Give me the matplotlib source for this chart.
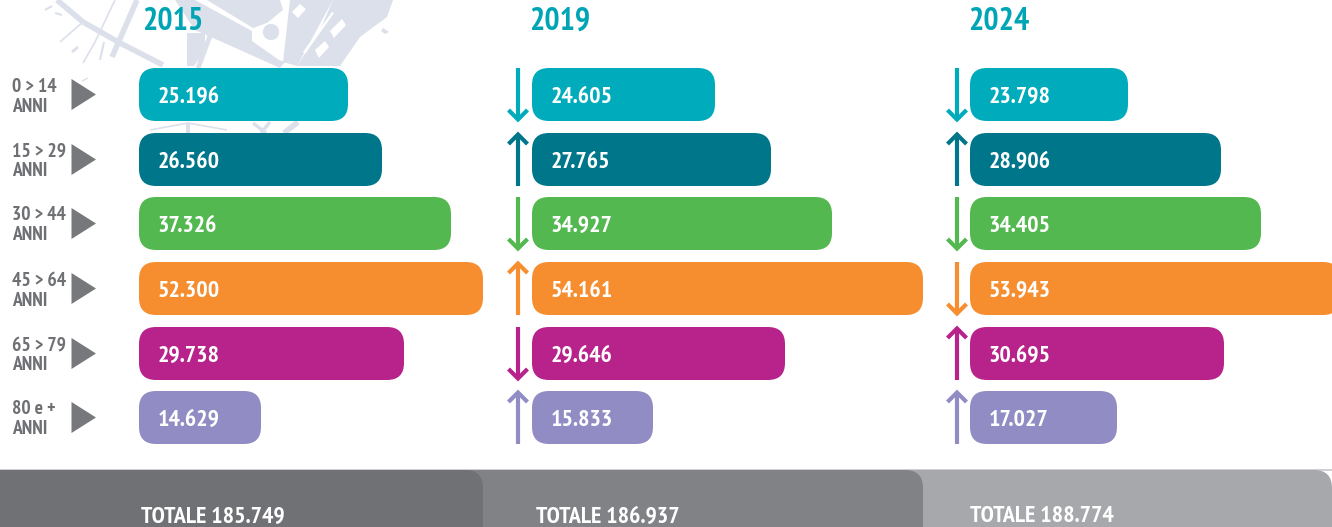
import matplotlib
matplotlib.use("Agg")
import matplotlib.pyplot as plt
from matplotlib.patches import FancyBboxPatch, Polygon, Circle, Rectangle
from matplotlib import font_manager as fm

# ---------- data ----------
years = ["2015", "2019", "2024"]
age_line1 = ["0 > 14", "15 > 29", "30 > 44", "45 > 64", "65 > 79", "80 e +"]
age_line2 = ["ANNI"] * 6
labels_2015 = ["25.196", "26.560", "37.326", "52.300", "29.738", "14.629"]
labels_2019 = ["24.605", "27.765", "34.927", "54.161", "29.646", "15.833"]
labels_2024 = ["23.798", "28.906", "34.405", "53.943", "30.695", "17.027"]
# drawn bar lengths as they appear in the infographic (not strictly proportional)
lengths_2015 = [209, 243, 312, 344, 265, 122]
lengths_2019 = [183, 239, 300, 391, 253, 121]
lengths_2024 = [158, 251, 291, 370, 254, 147]
arrows_2019 = [-1, 1, -1, 1, -1, 1]
arrows_2024 = [-1, 1, -1, -1, 1, 1]
totals = ["TOTALE 185.749", "TOTALE 186.937", "TOTALE 188.774"]

# ---------- style / layout ----------
colors = ["#00abbb", "#00768a", "#52b84f", "#f68e30", "#b7228b", "#918cc3"]
col_x = [139, 532, 970]
year_x = [142.5, 529.5, 968.5]
total_x = [141, 536, 970]
row_y = [68, 133, 197, 262, 327, 391]
BAR_H = 53
RAD = 17
TEAL = "#00a5b5"
GREY = "#6f7073"
MAP = "#dbe0ea"

avail = {f.name for f in fm.fontManager.ttflist}
FONT = "Roboto"
for cand in ["PT Sans Narrow", "TeX Gyre Heros Cn", "Roboto Condensed", "Roboto"]:
    if cand in avail:
        FONT = cand
        break
plt.rcParams["font.family"] = [FONT, "DejaVu Sans"]

fig = plt.figure(figsize=(13.32, 5.27), dpi=100)
ax = fig.add_axes([0, 0, 1, 1])
ax.set_xlim(0, 1332)
ax.set_ylim(527, 0)
ax.axis("off")


def rbox(x, y, w, h, c, r=RAD, z=3):
    ax.add_patch(FancyBboxPatch((x + r, y + r), w - 2 * r, h - 2 * r,
                                boxstyle=f"round,pad={r},rounding_size={r}",
                                fc=c, ec="none", zorder=z))


# background map fragment
map_lines = [
    ([57, 83, 120, 163], [0, 22, 43, 65], 4),
    ([137, 112], [0, 57], 4),
    ([60, 83], [42, 22], 1.2),
    ([83, 95, 115], [63, 42, 0], 1.2),
    ([45, 52], [10, 6], 1.5), ([55, 62], [13, 15], 1.5),
    ([72, 78], [52, 47], 2), ([100, 104], [60, 42], 1.5),
    ([210, 198], [36, 68], 3.5),
    ([150, 188, 227], [130, 123, 130], 1.2),
    ([188, 188], [123, 133], 3),
    ([253, 266], [123, 133], 2.5), ([270, 261], [122, 133], 2.5),
    ([298, 284], [122, 133], 4),
    ([82, 88], [81, 78], 1),
]
for xs, ys, lw in map_lines:
    ax.plot(xs, ys, color=MAP, lw=lw, solid_capstyle="butt", zorder=1)
map_polys = [
    [(207, 0), (280, 0), (283, 10), (267, 23), (253, 28)],
    [(175, 0), (195, 0), (252, 31), (252, 41), (279, 60), (285, 62), (280, 68), (240, 50), (195, 30)],
    [(333, 0), (393, 0), (387, 17), (360, 37), (340, 66), (297, 66), (320, 30)],
    [(290, 0), (333, 0), (297, 66), (283, 62)],
    [(187, 33), (205, 33), (205, 50), (194, 66), (187, 66)],
    [(383, 28), (389, 32), (385, 34), (381, 31)],
]
for p in map_polys:
    ax.add_patch(Polygon(p, closed=True, fc=MAP, ec="none", zorder=1))
white_blocks = [
    [(292, 12), (300, 4), (306, 9), (298, 18)],
    [(330, 31), (342, 19), (346, 25), (334, 38)],
    [(315, 50), (325, 41), (329, 47), (319, 58)],
    [(303, 52), (332, 12), (334, 13), (305, 54)],
]
for p in white_blocks:
    ax.add_patch(Polygon(p, closed=True, fc="white", ec="none", zorder=1.2))
ax.add_patch(Circle((271, 32), 9, fc=MAP, ec="white", lw=1.2, zorder=1.5))

# year headings
for x, y in zip(year_x, years):
    ax.text(x, 22, y, color=TEAL, fontsize=23, fontweight="bold", va="center", ha="left", zorder=4)

# row labels + triangles
for y, a, b in zip(row_y, age_line1, age_line2):
    ax.text(12.5, y + 18.5, a, color=GREY, fontsize=14, fontweight="bold", va="center", ha="left", zorder=4)
    ax.text(12.5, y + 38.5, b, color=GREY, fontsize=14, fontweight="bold", va="center", ha="left", zorder=4)
    ax.add_patch(Polygon([(71.5, y + 11), (71.5, y + 42), (96, y + 26.5)], closed=True,
                         fc="#77787b", ec="none", zorder=3))

# bars
series = [(labels_2015, lengths_2015), (labels_2019, lengths_2019), (labels_2024, lengths_2024)]
for x0, (labs, lens) in zip(col_x, series):
    for y, lab, ln, c in zip(row_y, labs, lens, colors):
        rbox(x0, y, ln, BAR_H, c)
        ax.text(x0 + 18.5, y + BAR_H / 2 + 3, lab, color="white", fontsize=17.2, fontweight="bold",
                va="center", ha="left", zorder=5)

# change arrows
for ax_x, dirs in zip([518, 957], [arrows_2019, arrows_2024]):
    for y, d, c in zip(row_y, dirs, colors):
        top, bot = y, y + BAR_H
        tail, tip = (top, bot) if d < 0 else (bot, top)
        s = 1 if d < 0 else -1
        ax.plot([ax_x, ax_x], [tail, tip - s * 2], color=c, lw=3, solid_capstyle="butt", zorder=3)
        ax.plot([ax_x - 9.5, ax_x, ax_x + 9.5], [tip - s * 11, tip - s * 1.5, tip - s * 11],
                color=c, lw=3, solid_capstyle="butt", solid_joinstyle="miter", zorder=3)

# totals band
band_top = 470
ax.add_patch(Rectangle((0, band_top - 1), 1332, 1.5, fc="#d0d0d2", ec="none", zorder=1))
rbox(880, band_top, 452, 90, "#a7a8ab", r=18, z=2)
rbox(440, band_top, 483, 90, "#808285", r=18, z=2.1)
rbox(-30, band_top, 513, 90, "#707175", r=18, z=2.2)
for x, t in zip(total_x, totals):
    ax.text(x, 517, t, color="white", fontsize=17.2, fontweight="bold", va="center", ha="left", zorder=5)

fig.savefig("out.png", dpi=100)
